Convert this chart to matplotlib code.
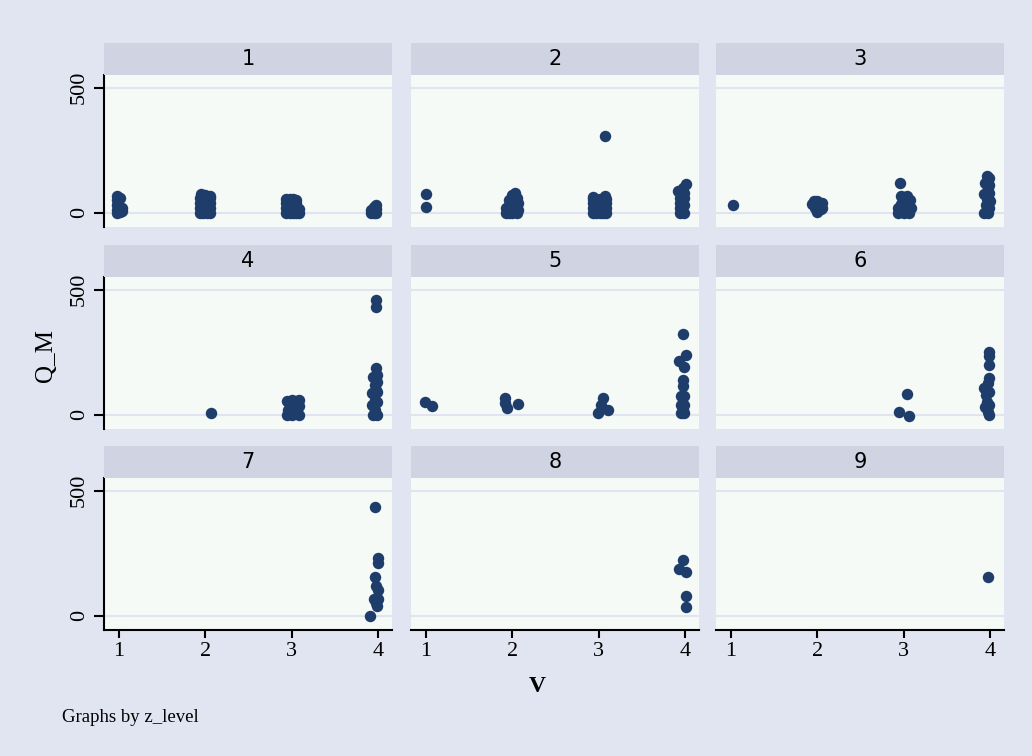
import matplotlib
matplotlib.use('Agg')
import matplotlib.pyplot as plt

# V (jittered) and Q_M values per z_level panel
p1_x = [0.98, 0.98, 0.98, 0.98, 0.98, 1.01, 1.04, 1.04, 1.02,
        1.94, 1.94, 1.94, 1.94, 1.98, 1.98, 1.98, 1.98, 2.02, 2.02, 2.02, 2.02,
        2.06, 2.06, 2.06, 2.06, 1.95, 2.00, 2.05,
        2.94, 2.94, 2.94, 2.94, 2.98, 2.98, 2.98, 2.98, 3.02, 3.02, 3.02, 3.02,
        3.05, 3.05, 3.05, 3.05, 3.08, 3.08,
        3.92, 3.92, 3.95, 3.95, 3.98, 3.98, 3.98]
p1_y = [68, 50, 30, 10, 0, 60, 20, 5, 2,
        0, 20, 40, 60, 0, 20, 40, 60, 0, 20, 40, 60,
        0, 20, 40, 60, 76, 70, 65,
        0, 20, 40, 55, 0, 20, 40, 55, 0, 20, 40, 55,
        0, 20, 40, 50, 0, 15,
        0, 12, 0, 22, 0, 15, 32]

p2_x = [1.00, 1.00,
        1.93, 1.93, 1.96, 1.96, 1.96, 2.00, 2.00, 2.00, 2.00, 2.03, 2.05, 2.05,
        2.05, 2.07, 2.07,
        2.93, 2.93, 2.93, 2.93, 2.97, 2.97, 2.97, 2.97, 3.01, 3.01, 3.01, 3.01,
        3.05, 3.05, 3.05, 3.05, 3.08, 3.08, 3.08, 3.08, 2.93, 3.07, 3.07,
        3.94, 3.94, 3.94, 3.94, 3.92, 3.97, 4.01, 3.99, 3.99, 3.99, 3.99]
p2_y = [75, 22,
        0, 20, 0, 30, 50, 0, 25, 50, 70, 79, 0, 30,
        60, 10, 40,
        0, 20, 40, 55, 0, 20, 40, 55, 0, 20, 40, 55,
        0, 20, 40, 55, 0, 20, 40, 55, 62, 68, 308,
        0, 20, 40, 60, 85, 100, 115, 0, 30, 60, 80]

p3_x = [1.03,
        1.94, 1.96, 1.98, 2.00, 2.02, 2.04, 2.00, 2.06, 2.05,
        2.96, 2.97, 3.04, 2.93, 2.93, 2.97, 3.00, 3.00, 3.03, 3.06, 3.08, 3.07,
        3.96, 3.99, 3.94, 3.97, 3.93, 3.96, 3.99, 3.95, 3.93, 3.97, 3.99, 4.00,
        3.99]
p3_y = [31,
        35, 45, 20, 48, 30, 15, 2, 20, 38,
        119, 68, 65, 0, 20, 35, 0, 20, 45, 0, 20, 50,
        146, 140, 120, 100, 75, 55, 80, 30, 0, 0, 20, 45,
        110]

p4_x = [2.07,
        2.95, 2.96, 3.00, 3.00, 3.05, 3.08, 3.09, 3.04, 3.08, 3.00, 2.95,
        3.97, 3.97, 3.98, 3.94, 3.99, 3.93, 3.96, 3.99, 3.93, 3.96, 3.99, 3.94,
        3.96, 3.99, 3.99, 3.97]
p4_y = [7,
        0, 20, 40, 60, 55, 60, 35, 20, 0, 0, 55,
        458, 430, 187, 150, 160, 85, 120, 130, 40, 60, 90, 0,
        20, 0, 50, 100]

p5_x = [0.99, 1.07,
        1.92, 1.92, 1.94, 2.07,
        2.99, 3.05, 3.11, 3.03,
        3.97, 4.01, 3.93, 3.99, 3.97, 3.98, 3.95, 3.99, 3.95, 3.99, 3.95, 3.99,
        3.97]
p5_y = [50, 36,
        68, 48, 28, 44,
        8, 68, 20, 40,
        322, 239, 216, 191, 137, 113, 73, 73, 40, 40, 5, 5,
        20]

p6_x = [3.04, 2.95, 3.06,
        3.99, 3.99, 3.99, 3.99, 3.93, 3.98, 3.95, 3.99, 3.96, 3.94, 3.99, 3.97,
        3.99]
p6_y = [84, 12, -4,
        252, 235, 199, 148, 107, 127, 80, 90, 50, 30, 40, 10,
        0]

p7_x = [3.96, 4.00, 4.00, 3.96, 3.98, 4.00, 3.95, 4.00, 3.97, 3.99, 3.91]
p7_y = [434, 229, 212, 155, 118, 102, 65, 65, 50, 37, 0]

p8_x = [3.97, 3.93, 4.01, 4.01, 4.01]
p8_y = [222, 186, 174, 79, 35]

p9_x = [3.97]
p9_y = [153]

panel_x = [p1_x, p2_x, p3_x, p4_x, p5_x, p6_x, p7_x, p8_x, p9_x]
panel_y = [p1_y, p2_y, p3_y, p4_y, p5_y, p6_y, p7_y, p8_y, p9_y]
panel_names = ['1', '2', '3', '4', '5', '6', '7', '8', '9']
x_ticks = [1, 2, 3, 4]
y_ticks = [0, 500]

bg = '#E1E5F1'
plot_bg = '#F5FAF7'
strip_bg = '#D0D4E2'
grid_c = '#E0E4F0'
dot_c = '#1F3D6A'
serif = 'Liberation Serif'

W, H = 1032, 756
fig = plt.figure(figsize=(W / 100, H / 100), dpi=100)
fig.patch.set_facecolor(bg)

col_left = [104, 411, 716]
col_w = 288
row_top = [75, 277, 478]
row_h = 152
strip_h = 32

for i in range(9):
    r, c = divmod(i, 3)
    x0 = col_left[c]
    y0 = row_top[r]
    ax = fig.add_axes([x0 / W, 1 - (y0 + row_h) / H, col_w / W, row_h / H])
    ax.set_facecolor(plot_bg)
    for yv in y_ticks:
        ax.axhline(yv, color=grid_c, lw=1.5, zorder=0)
    ax.scatter(panel_x[i], panel_y[i], s=68, color=dot_c, linewidths=0, zorder=3)
    ax.set_xlim(0.83, 4.16)
    ax.set_ylim(-57, 550)
    for s in ['top', 'right']:
        ax.spines[s].set_visible(False)
    ax.set_xticks(x_ticks)
    ax.set_yticks(y_ticks)
    if c == 0:
        ax.spines['left'].set_linewidth(1.5)
        ax.set_yticklabels([str(v) for v in y_ticks], rotation=90, va='center',
                           family=serif, fontsize=16)
        ax.tick_params(axis='y', length=7, width=1.5, pad=4)
    else:
        ax.spines['left'].set_visible(False)
        ax.tick_params(axis='y', left=False, labelleft=False)
    if r == 2:
        ax.spines['bottom'].set_linewidth(1.5)
        ax.set_xticklabels([str(v) for v in x_ticks], family=serif, fontsize=16)
        ax.tick_params(axis='x', length=6, width=1.5, pad=3)
    else:
        ax.spines['bottom'].set_visible(False)
        ax.tick_params(axis='x', bottom=False, labelbottom=False)

    sax = fig.add_axes([x0 / W, 1 - y0 / H, col_w / W, strip_h / H])
    sax.set_facecolor(strip_bg)
    sax.set_xticks([])
    sax.set_yticks([])
    for s in sax.spines.values():
        s.set_visible(False)
    sax.text(0.5, 0.5, panel_names[i], ha='center', va='center',
             fontsize=15, family='DejaVu Sans', transform=sax.transAxes)

fig.text(46 / W, 1 - 356 / H, 'Q_M', rotation=90, ha='center', va='center',
         family=serif, fontsize=18)
fig.text(537 / W, 1 - 686 / H, 'V', ha='center', va='center',
         family=serif, fontsize=17, weight='bold')
fig.text(62 / W, 1 - 717 / H, 'Graphs by z_level', ha='left', va='center',
         family=serif, fontsize=13.5)

fig.savefig('out.png', dpi=100, facecolor=bg)
